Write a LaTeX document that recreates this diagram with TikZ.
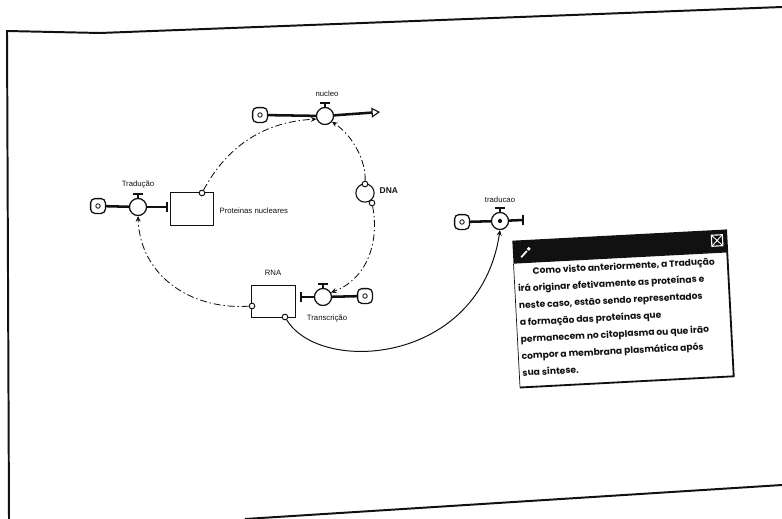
\documentclass[tikz,border=0pt]{standalone}
\usepackage{fontspec}
\setmainfont{Liberation Sans}
\newfontfamily\notefont{Poppins}
\usetikzlibrary{arrows.meta}
\definecolor{ink}{HTML}{111111}
\definecolor{paper}{HTML}{FFFFFF}

\tikzset{
  valve/.style={circle,draw=ink,fill=paper,line width=0.8pt,minimum size=12pt,inner sep=0pt},
  conv/.style={circle,draw=ink,line width=0.8pt,minimum size=13pt,inner sep=0pt},
  cloud/.style={draw=ink,fill=paper,line width=0.9pt,rounded corners=3pt,minimum size=10.5pt,inner sep=0pt,
    path picture={\draw[ink,line width=0.6pt] (path picture bounding box.center) circle (1.6pt);}},
  stock/.style={rectangle,draw=ink,fill=paper,line width=0.8pt,minimum width=31pt,minimum height=23pt,inner sep=0pt},
  pipe/.style={ink,line width=1.8pt},
  link/.style={ink,line width=0.6pt,dash pattern=on 5pt off 2pt on 1pt off 2pt,-{Stealth[length=4pt,width=3.5pt]}},
  plainlink/.style={ink,line width=0.7pt,-{Stealth[length=4pt,width=3.5pt]}},
  dot/.style={circle,draw=ink,fill=paper,line width=0.7pt,minimum size=4pt,inner sep=0pt},
  lbl/.style={font=\fontsize{5.5}{6}\selectfont,text=ink,inner sep=1pt},
  frame/.style={ink,line width=1.4pt}
}
\newcommand\valvetop[1]{%
  \draw[ink,line width=0.9pt] (#1.north) -- ++(0,-4);
  \draw[ink,line width=1.4pt] (#1.north) ++(-5,-4) -- ++(10,0);}

\begin{document}
\begin{tikzpicture}[x=0.025cm,y=-0.025cm]
  \useasboundingbox (0,0) rectangle (782,519);
  % page frame
  \draw[frame] (9,519) -- (7,31) -- (100,33) -- (782,7);
  \draw[frame] (245,519) -- (782,485);

  % nucleo
  \node[cloud] (cloudN) at (260,115) {};
  \node[valve] (nucleo) at (325,116) {};
  \coordinate (outN) at (380,112);
  \draw[pipe] (cloudN) -- (nucleo);
  \draw[pipe,-{Triangle[open,length=6pt,width=7pt,line width=0.8pt]}] (nucleo) -- (outN);
  \node[valve] at (nucleo) {};
  \valvetop{nucleo}
  \node[lbl] (nucleoL) at (327,94) {nucleo};

  % Traducao and Proteinas nucleares
  \node[cloud] (cloudT) at (98,206) {};
  \node[valve] (trad) at (138,207) {};
  \node[stock] (prot) at (192,209) {};
  \coordinate (brT) at (167,207);
  \draw[pipe] (cloudT) -- (trad);
  \draw[pipe] (trad) -- (brT);
  \node[valve] at (trad) {};
  \draw[ink,line width=1pt] (brT) ++(0,-5) -- ++(0,10);
  \valvetop{trad}
  \node[lbl] (tradL) at (138,185) {Tradução};
  \node[lbl,anchor=west] (protL) at (218,211) {Proteinas nucleares};
  \node[dot] (protDot) at (202,193) {};

  % DNA
  \node[conv] (dna) at (365,193) {};
  \node[lbl,anchor=west,font=\fontsize{6}{7}\selectfont\bfseries] (dnaL) at (378,191) {DNA};
  \node[dot] (dnaTop) at (365,184) {};
  \node[dot] (dnaBot) at (372,203) {};

  % RNA and Transcricao
  \node[stock] (rna) at (273.5,301.5) {};
  \node[lbl] (rnaL) at (273,273) {RNA};
  \node[valve] (trans) at (323,297) {};
  \node[cloud] (cloudR) at (365,296) {};
  \coordinate (brR) at (301,297);
  \draw[pipe] (cloudR) -- (trans);
  \draw[pipe] (trans) -- (brR);
  \node[valve] at (trans) {};
  \draw[ink,line width=1pt] (brR) ++(0,-5) -- ++(0,10);
  \valvetop{trans}
  \node[lbl] (transL) at (327,319) {Transcrição};
  \node[dot] (rnaLeft) at (252,306) {};
  \node[dot] (rnaDot) at (285,317) {};

  % traducao
  \node[cloud] (cloudD) at (462,222) {};
  \node[valve] (tradc) at (500,221) {};
  \coordinate (brD) at (523,220);
  \draw[pipe] (cloudD) -- (tradc);
  \draw[pipe] (tradc) -- (brD);
  \node[valve] at (tradc) {};
  \fill[ink] (tradc) circle (1.5pt);
  \draw[ink,line width=1pt] (brD) ++(0,-5) -- ++(0,10);
  \valvetop{tradc}
  \node[lbl] (tradcL) at (500,200) {traducao};

  % links
  \draw[link] (protDot) .. controls (225,150) and (260,122) .. (nucleo.200);
  \draw[link] (dnaTop) .. controls (366,160) and (352,135) .. (nucleo.-40);
  \draw[link] (dnaBot) .. controls (380,245) and (365,280) .. (trans.30);
  \draw[link] (rnaLeft) .. controls (190,310) and (140,275) .. (trad.south);
  \draw[plainlink] (rnaDot) .. controls (320,375) and (480,365) .. (tradc.south);

  % note window
  \begin{scope}[rotate around={3:(623,308)}]
    \fill[ink] (516,235) rectangle (730,258);
    \draw[ink,line width=0.5pt] (516,258) -- (516,382);
    \draw[ink,line width=1.3pt] (730,235) -- (730,382) -- (516,382);
    \draw[paper,line width=0.8pt] (715,240) rectangle (726,251);
    \draw[paper,line width=0.6pt] (715,240) -- (726,251) (715,251) -- (726,240);
    \draw[paper,line width=1.2pt] (524,252) -- (530,246);
    \fill[paper] (532,244) circle (1.4pt);
    \node[anchor=north west,align=left,inner sep=0pt,transform shape,text=ink,
      font=\notefont\bfseries\fontsize{6.5}{12}\selectfont] (note) at (519,262)
      {\hspace*{11pt}Como visto anteriormente, a Tradução\\
       irá originar efetivamente as proteínas e\\
       neste caso, estão sendo representados\\
       a formação das proteínas que\\
       permanecem no citoplasma ou que irão\\
       compor a membrana plasmática após\\
       sua síntese.};
  \end{scope}
\end{tikzpicture}
\end{document}
